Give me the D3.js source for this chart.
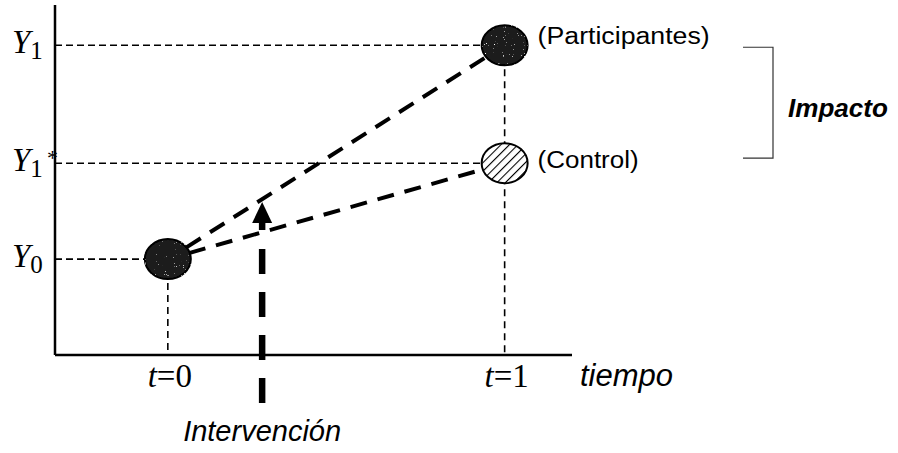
<!DOCTYPE html>
<html lang="es">
<head>
<meta charset="utf-8">
<title>Impacto</title>
<style>
  body { margin: 0; background: #fff; }
  .serif { font-family: "Liberation Serif", "DejaVu Serif", serif; }
  .sans { font-family: "Liberation Sans", Arial, sans-serif; }
</style>
</head>
<body>
<svg width="898" height="453"></svg>
<script src="https://cdn.jsdelivr.net/npm/d3@7"></script>
<script>
// data
var times = [0, 1];
var timeLabels = ["0", "1"];
var outcomeNames = ["Y0", "Y1*", "Y1"];
var outcomeValues = [1.0, 2.0, 3.23];
var groups = ["Participantes", "Control"];
var groupStart = [1.0, 1.0];
var groupEnd = [3.23, 2.0];
var interventionTime = 0.28;

var svg = d3.select("svg");

var x = d3.scaleLinear().domain([-0.335, 1.2]).range([55, 572]);
var y = d3.scaleLinear().domain([0, 3.65]).range([355, 5]);

// hatch pattern for control
var defs = svg.append("defs");
var pat = defs.append("pattern")
  .attr("id", "hatch").attr("patternUnits", "userSpaceOnUse")
  .attr("width", 6).attr("height", 6)
  .attr("patternTransform", "rotate(45)");
pat.append("rect").attr("width", 6).attr("height", 6).attr("fill", "#fff");
pat.append("line").attr("x1", 0).attr("y1", 0).attr("x2", 0).attr("y2", 6)
  .attr("stroke", "#000").attr("stroke-width", 2.2);

// speckled dark fill
var f = defs.append("filter").attr("id", "speck");
f.append("feTurbulence").attr("type", "fractalNoise").attr("baseFrequency", 0.9).attr("numOctaves", 1).attr("result", "n");
f.append("feColorMatrix").attr("in", "n").attr("type", "matrix")
  .attr("values", "0 0 0 0 1  0 0 0 0 1  0 0 0 0 1  0 0 0 9 -6.2").attr("result", "dots");
f.append("feComposite").attr("in", "dots").attr("in2", "SourceGraphic").attr("operator", "in").attr("result", "d2");
var m = f.append("feMerge");
m.append("feMergeNode").attr("in", "SourceGraphic");
m.append("feMergeNode").attr("in", "d2");

// axes
svg.append("line").attr("x1", x.range()[0]).attr("x2", x.range()[0])
  .attr("y1", y.range()[1]).attr("y2", y(0))
  .attr("stroke", "#000").attr("stroke-width", 2.5);
svg.append("line").attr("x1", x.range()[0]).attr("x2", x.range()[1])
  .attr("y1", y(0)).attr("y2", y(0))
  .attr("stroke", "#000").attr("stroke-width", 2.5);

// horizontal guides
var guideEnds = [x(0), x(1), x(1)];
outcomeValues.forEach(function(v, i) {
  svg.append("line").attr("x1", x.range()[0]).attr("x2", guideEnds[i])
    .attr("y1", y(v)).attr("y2", y(v))
    .attr("stroke", "#000").attr("stroke-width", 1.6)
    .attr("stroke-dasharray", "7,4");
});

// vertical guides
svg.append("line").attr("x1", x(0)).attr("x2", x(0))
  .attr("y1", y(groupStart[0])).attr("y2", y(0))
  .attr("stroke", "#000").attr("stroke-width", 1.6).attr("stroke-dasharray", "7,5");
svg.append("line").attr("x1", x(1)).attr("x2", x(1))
  .attr("y1", y(groupEnd[0])).attr("y2", y(0))
  .attr("stroke", "#000").attr("stroke-width", 1.6).attr("stroke-dasharray", "7,5");

// trajectories
groups.forEach(function(g, i) {
  svg.append("line")
    .attr("x1", x(times[0])).attr("y1", y(groupStart[i]))
    .attr("x2", x(times[1])).attr("y2", y(groupEnd[i]))
    .attr("stroke", "#000").attr("stroke-width", 4)
    .attr("stroke-dasharray", "17,11").attr("stroke-dashoffset", -22);
});

// intervention arrow
var ax = x(interventionTime);
svg.append("line").attr("x1", ax).attr("x2", ax)
  .attr("y1", 403).attr("y2", 247)
  .attr("stroke", "#000").attr("stroke-width", 6.5)
  .attr("stroke-dasharray", "25,18");
svg.append("line").attr("x1", ax).attr("x2", ax)
  .attr("y1", 230).attr("y2", 220)
  .attr("stroke", "#000").attr("stroke-width", 6.5);
svg.append("path")
  .attr("d", "M" + (ax - 10) + ",223 L" + ax + ",202 L" + (ax + 10) + ",223 Z")
  .attr("fill", "#000");

// circles
function dot(cx, cy, fill, filt) {
  var c = svg.append("ellipse").attr("cx", cx).attr("cy", cy)
    .attr("rx", 23).attr("ry", 20)
    .attr("fill", fill).attr("stroke", "#000").attr("stroke-width", 2);
  if (filt) c.attr("filter", "url(#speck)");
}
dot(x(0), y(groupStart[0]), "#1c1c1c", true);
dot(x(1), y(groupEnd[0]), "#1c1c1c", true);
dot(x(1), y(groupEnd[1]), "url(#hatch)", false);

// group labels
svg.append("text").attr("class", "sans").attr("x", x(1) + 33).attr("y", y(groupEnd[0]) - 1)
  .attr("font-size", 23).attr("textLength", 172).attr("lengthAdjust", "spacingAndGlyphs")
  .text("(" + groups[0] + ")");
svg.append("text").attr("class", "sans").attr("x", x(1) + 33).attr("y", y(groupEnd[1]) + 5)
  .attr("font-size", 23).attr("textLength", 101).attr("lengthAdjust", "spacingAndGlyphs")
  .text("(" + groups[1] + ")");

// y labels
var yLab = [{b: "Y", s: "0", star: false}, {b: "Y", s: "1", star: true}, {b: "Y", s: "1", star: false}];
outcomeValues.forEach(function(v, i) {
  var t = svg.append("text").attr("class", "serif").attr("x", 12).attr("y", y(v) + 8)
    .attr("font-size", 33);
  t.append("tspan").attr("font-style", "italic").text(yLab[i].b);
  t.append("tspan").attr("font-size", 25).attr("dy", 6).text(yLab[i].s);
  if (yLab[i].star) {
    svg.append("text").attr("class", "serif").attr("x", 47).attr("y", y(v) + 2)
      .attr("font-size", 22).text("*");
  }
});

// x labels
times.forEach(function(t, i) {
  var tx = svg.append("text").attr("class", "serif").attr("x", x(t) + 2).attr("y", 387)
    .attr("text-anchor", "middle").attr("font-size", 33);
  tx.append("tspan").attr("font-style", "italic").text("t");
  tx.append("tspan").text("=" + timeLabels[i]);
});
svg.append("text").attr("class", "sans").attr("x", 580).attr("y", 386)
  .attr("font-size", 31).attr("font-style", "italic").text("tiempo");
svg.append("text").attr("class", "sans").attr("x", ax).attr("y", 441)
  .attr("text-anchor", "middle")
  .attr("font-size", 29).attr("font-style", "italic").text("Intervención");

// impact bracket
var by1 = y(groupEnd[0]) + 2, by2 = y(groupEnd[1]) - 5;
svg.append("path")
  .attr("d", "M743," + by1 + "H773V" + by2 + "H743")
  .attr("fill", "none").attr("stroke", "#333").attr("stroke-width", 1.2);
svg.append("text").attr("class", "sans").attr("x", 788).attr("y", 117)
  .attr("font-size", 25).attr("font-weight", "bold").attr("font-style", "italic")
  .attr("textLength", 100).attr("lengthAdjust", "spacingAndGlyphs").text("Impacto");
</script>
</body>
</html>
